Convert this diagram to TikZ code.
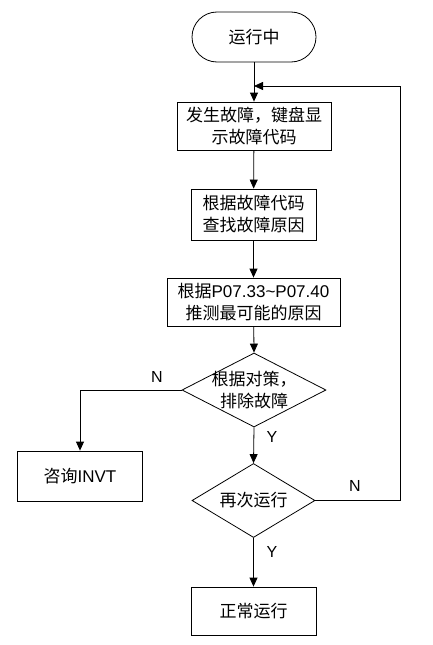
\documentclass[tikz,border=0pt]{standalone}
\usepackage{fontspec}
\setmainfont{Liberation Sans}
\newfontfamily\cjk{Noto Sans CJK SC}
\usetikzlibrary{arrows.meta,shapes.geometric}
\begin{document}
\begin{tikzpicture}[x=1pt,y=-1pt,
  every node/.style={font=\fontsize{17}{22}\selectfont, inner sep=0pt},
  stepbox/.style={draw, line width=0.8pt, rectangle, align=center},
  termbox/.style={draw, line width=0.8pt, rounded corners=25pt, minimum width=124pt, minimum height=50pt},
  decbox/.style={draw, line width=0.8pt, diamond},
  conn/.style={line width=0.8pt, -{Triangle[length=9pt,width=8pt]}},
  plainconn/.style={line width=0.8pt},
  lbl/.style={font=\fontsize{16}{19}\selectfont}
]
\useasboundingbox (0,0) rectangle (433,645);
\node[termbox] (start) at (254,37) {\cjk 运行中};
\node[stepbox, minimum width=154pt, minimum height=48pt] (b1) at (254,126) {{\cjk 发生故障，键盘显}\\{\cjk 示故障代码}};
\node[stepbox, minimum width=125pt, minimum height=51pt] (b2) at (253.5,214.5) {{\cjk 根据故障代码}\\{\cjk 查找故障原因}};
\node[stepbox, minimum width=173pt, minimum height=48pt] (b3) at (253.5,302) {{\cjk 根据}P07.33\char`\~P07.40\\{\cjk 推测最可能的原因}};
\node[decbox, minimum width=144pt, minimum height=74pt] (d1) at (254,390) {};
\node[align=center] (d1t) at (d1.center) {{\cjk 根据对策，}\\{\cjk 排除故障}};
\node[stepbox, minimum width=125pt, minimum height=50pt] (lb) at (80,476) {{\cjk 咨询}INVT};
\node[decbox, minimum width=123pt, minimum height=74pt] (d2) at (253.5,500.5) {};
\node (d2t) at (d2.center) {\cjk 再次运行};
\node[stepbox, minimum width=125pt, minimum height=48pt] (fin) at (253.5,611) {\cjk 正常运行};
\coordinate (fb) at (400,86);
\coordinate (join) at (254,86);
\draw[conn] (start) -- (b1);
\draw[conn] (b1) -- (b2);
\draw[conn] (b2) -- (b3);
\draw[conn] (b3) -- (d1.north);
\draw[conn] (d1.west) -| (lb.north);
\draw[conn] (d1.south) -- (d2.north);
\draw[conn] (d2.south) -- (fin.north);
\draw[conn] (d2.east) -| (fb) -- (join);
\node[lbl] (n1) at (157,377) {N};
\node[lbl] (y1) at (272,437) {Y};
\node[lbl] (n2) at (355,486) {N};
\node[lbl] (y2) at (272,552) {Y};
\end{tikzpicture}
\end{document}
